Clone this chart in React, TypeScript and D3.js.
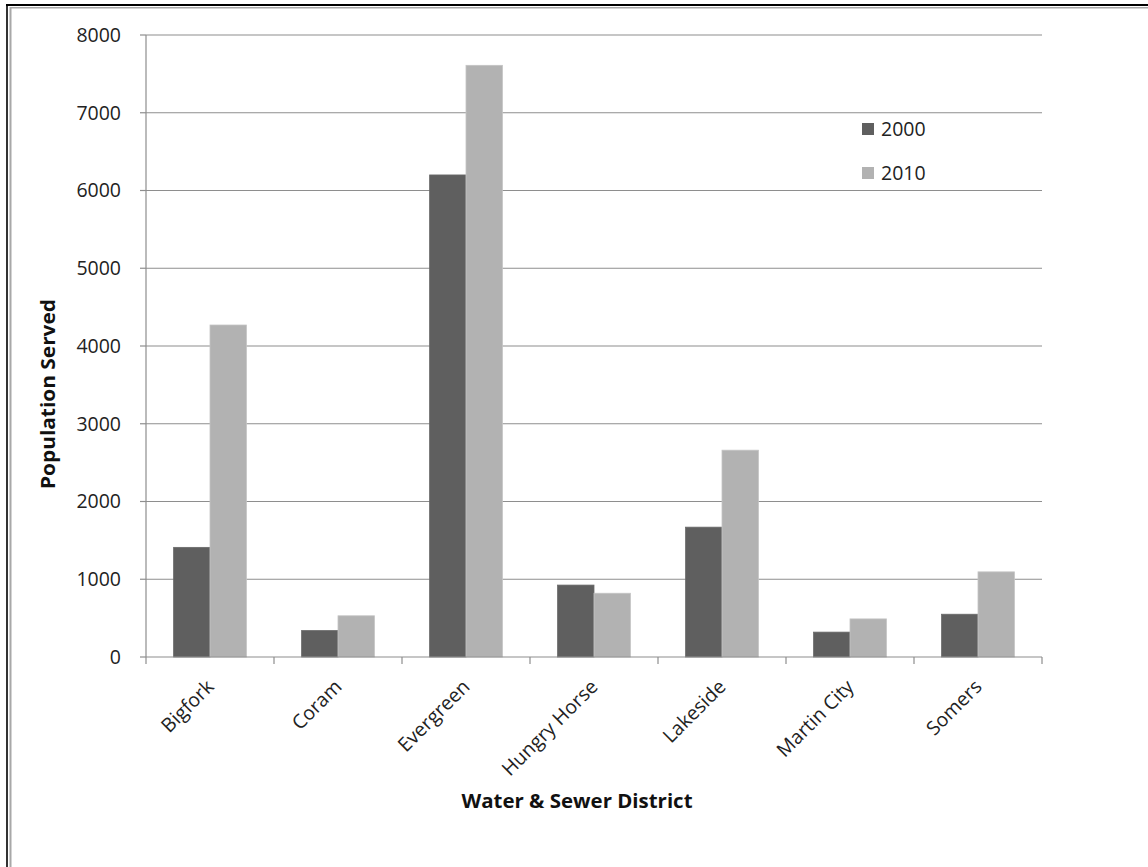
import React from "react";
import * as d3 from "d3";

const categories = ["Bigfork", "Coram", "Evergreen", "Hungry Horse", "Lakeside", "Martin City", "Somers"];
const series2000 = [1410, 340, 6200, 925, 1670, 320, 550];
const series2010 = [4270, 530, 7610, 820, 2660, 490, 1095];
const seriesNames = ["2000", "2010"];
const seriesColors = ["#5f5f5f", "#b2b2b2"];
const yTicks = [0, 1000, 2000, 3000, 4000, 5000, 6000, 7000, 8000];

const W = 1148;
const H = 867;
const left = 146;
const right = 1042;
const top = 35;
const bottom = 657;
const FONT = "'Open Sans', 'Liberation Sans', sans-serif";

export default function App() {
  const x = d3.scaleBand<string>().domain(categories).range([left, right]).paddingInner(0).paddingOuter(0);
  const y = d3.scaleLinear().domain([0, 8000]).range([bottom, top]);
  const bw = x.bandwidth();
  const barW = bw * (36.4 / 128);
  const groupW = barW * 2;
  const data = [series2000, series2010];

  return (
    <svg width={W} height={H} style={{ position: "absolute", left: 0, top: 0, display: "block", background: "#fff" }} fontFamily={FONT}>
      <rect x={0} y={0} width={W} height={H} fill="#fff" />
      {/* frame */}
      <line x1={6} x2={W} y1={5} y2={5} stroke="#000" strokeWidth={2} />
      <line x1={7} x2={7} y1={4} y2={H} stroke="#000" strokeWidth={1.6} />
      <line x1={10.5} x2={W} y1={7.8} y2={7.8} stroke="#a8a8a8" strokeWidth={1.5} />
      <line x1={10.5} x2={10.5} y1={7} y2={H} stroke="#a8a8a8" strokeWidth={2} />

      {/* gridlines */}
      {yTicks.map((t) => (
        <g key={t}>
          {t > 0 && <line x1={left} x2={right} y1={y(t)} y2={y(t)} stroke="#8e8e8e" strokeWidth={1.2} />}
          <line x1={left - 6} x2={left} y1={y(t)} y2={y(t)} stroke="#8e8e8e" strokeWidth={1.2} />
          <text x={121} y={y(t)} dy="0.35em" textAnchor="end" fontSize={19.5} fill="#222">{t}</text>
        </g>
      ))}

      {/* bars */}
      {categories.map((c, i) => {
        const cx = (x(c) as number) + bw / 2;
        return (
          <g key={c}>
            {data.map((s, j) => (
              <rect
                key={j}
                x={cx - groupW / 2 + j * barW}
                y={y(s[i])}
                width={barW}
                height={y(0) - y(s[i])}
                fill={seriesColors[j]}
                stroke={j === 0 ? "#6a6a6a" : "#c4c4c4"}
                strokeWidth={0.8}
              />
            ))}
          </g>
        );
      })}

      {/* axes */}
      <line x1={left} x2={left} y1={top} y2={bottom} stroke="#8e8e8e" strokeWidth={1.2} />
      <line x1={left} x2={right} y1={bottom} y2={bottom} stroke="#8e8e8e" strokeWidth={1.2} />
      {categories.concat(["__end"]).map((c, i) => {
        const tx = left + i * bw;
        return <line key={c} x1={tx} x2={tx} y1={bottom} y2={bottom + 7} stroke="#8e8e8e" strokeWidth={1.2} />;
      })}

      {/* category labels */}
      {categories.map((c) => {
        const cx = (x(c) as number) + bw / 2 + 5;
        const ty = 688;
        return (
          <text key={c} x={cx} y={ty} textAnchor="end" fontSize={19.5} fill="#222" transform={`rotate(-45 ${cx} ${ty})`}>
            {c}
          </text>
        );
      })}

      {/* axis titles */}
      <text x={577} y={808} textAnchor="middle" fontSize={19} fontWeight="bold" fill="#111" textLength={231} lengthAdjust="spacingAndGlyphs">Water &amp; Sewer District</text>
      <text x={55} y={394} textAnchor="middle" fontSize={19} fontWeight="bold" fill="#111" textLength={190} lengthAdjust="spacingAndGlyphs" transform="rotate(-90 55 394)">Population Served</text>

      {/* legend */}
      {seriesNames.map((n, j) => (
        <g key={n}>
          <rect x={862} y={123 + j * 44} width={12} height={12} fill={seriesColors[j]} />
          <text x={881} y={129 + j * 44} dy="0.35em" fontSize={19.5} fill="#222">{n}</text>
        </g>
      ))}
    </svg>
  );
}
